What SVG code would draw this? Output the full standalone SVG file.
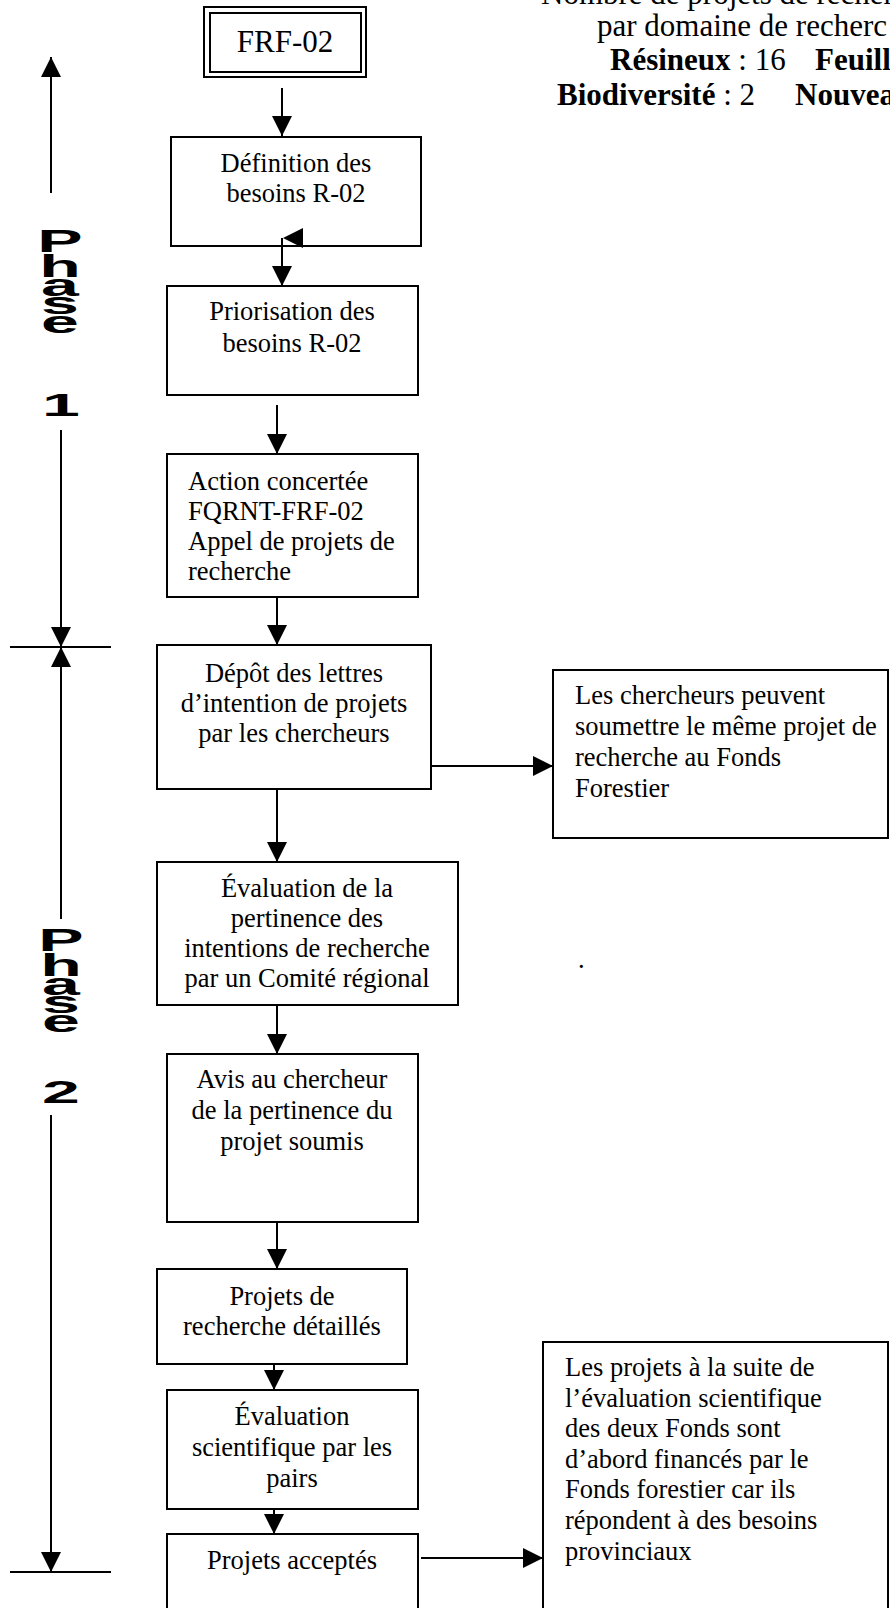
<svg xmlns="http://www.w3.org/2000/svg" width="890" height="1608" viewBox="0 0 890 1608">
<style>
.box{fill:#fff;stroke:#000;stroke-width:2}
.t{font-family:"Liberation Serif","Times New Roman",serif;font-size:26.5px;fill:#000}
.c{text-anchor:middle}
.big{font-family:"Liberation Serif","Times New Roman",serif;font-size:31px;fill:#000}
.ph{font-family:"Liberation Sans",Arial,sans-serif;font-weight:bold;font-size:68px;fill:#000;text-anchor:middle}
.ln{stroke:#000;stroke-width:2;fill:none}
.b{font-weight:bold}
</style>
<defs>
<marker id="ah" markerUnits="userSpaceOnUse" markerWidth="20" markerHeight="20" refX="20" refY="10" orient="auto">
<path d="M0,0 L20,10 L0,20 z" fill="#000"/>
</marker>
</defs>
<rect width="890" height="1608" fill="#fff"/>

<g id="header">
<text class="big" x="541" y="4">Nombre de projets de recherc</text>
<text class="big" x="597" y="36">par domaine de recherc</text>
<text class="big" x="610" y="70"><tspan class="b">Résineux</tspan> : 16<tspan class="b" x="815">Feuill</tspan></text>
<text class="big" x="557" y="105"><tspan class="b">Biodiversité</tspan> : 2<tspan class="b" x="795">Nouvea</tspan></text>
</g>

<g id="phase-labels">
<text class="ph" transform="scale(1,0.47)"><tspan x="60" y="536.2">P</tspan><tspan x="60" y="589.4">h</tspan><tspan x="60" y="628.9">a</tspan><tspan x="60" y="668.5">s</tspan><tspan x="60" y="708.1">e</tspan><tspan x="61" y="885.1">1</tspan></text>
<text class="ph" transform="scale(1,0.47)"><tspan x="61" y="2023.4">P</tspan><tspan x="61" y="2076.6">h</tspan><tspan x="61" y="2116.2">a</tspan><tspan x="61" y="2155.7">s</tspan><tspan x="61" y="2195.3">e</tspan><tspan x="61" y="2346.8">2</tspan></text>
</g>

<g id="connectors">
<line class="ln" x1="51" y1="193" x2="51" y2="57" marker-end="url(#ah)"/>
<line class="ln" x1="61" y1="430" x2="61" y2="647" marker-end="url(#ah)"/>
<line class="ln" x1="10" y1="647" x2="111" y2="647"/>
<line class="ln" x1="61" y1="919" x2="61" y2="647" marker-end="url(#ah)"/>
<line class="ln" x1="51" y1="1115" x2="51" y2="1572" marker-end="url(#ah)"/>
<line class="ln" x1="10" y1="1572" x2="111" y2="1572"/>

<line class="ln" x1="282" y1="88" x2="282" y2="136" marker-end="url(#ah)"/>
<line class="ln" x1="282" y1="238" x2="282" y2="286" marker-end="url(#ah)"/>
<line class="ln" x1="277" y1="405" x2="277" y2="454" marker-end="url(#ah)"/>
<line class="ln" x1="277" y1="597" x2="277" y2="645" marker-end="url(#ah)"/>
<line class="ln" x1="421" y1="766" x2="553" y2="766" marker-end="url(#ah)"/>
<line class="ln" x1="277" y1="789" x2="277" y2="862" marker-end="url(#ah)"/>
<line class="ln" x1="277" y1="983" x2="277" y2="1054" marker-end="url(#ah)"/>
<line class="ln" x1="277" y1="1222" x2="277" y2="1269" marker-end="url(#ah)"/>
<line class="ln" x1="274" y1="1364" x2="274" y2="1390" marker-end="url(#ah)"/>
<line class="ln" x1="274" y1="1509" x2="274" y2="1534" marker-end="url(#ah)"/>
<line class="ln" x1="421" y1="1558" x2="543" y2="1558" marker-end="url(#ah)"/>
</g>

<g id="frf02">
<rect class="box" x="204" y="7" width="162" height="70"/>
<rect class="box" x="210" y="13" width="151" height="59"/>
<text class="big c" x="285" y="52">FRF-02</text>
</g>

<g id="definition">
<rect class="box" x="171" y="137" width="250" height="109" fill-opacity="0"/>
<text class="t c" x="296" y="172">Définition des</text>
<text class="t c" x="296" y="202">besoins R-02</text>
</g>
<polygon points="283,238 303,228 303,248" fill="#000"/>

<g id="priorisation">
<rect class="box" x="167" y="286" width="251" height="109"/>
<text class="t c" x="292" y="320">Priorisation des</text>
<text class="t c" x="292" y="352">besoins R-02</text>
</g>

<g id="action">
<rect class="box" x="167" y="454" width="251" height="143"/>
<text class="t" x="188" y="490">Action concertée</text>
<text class="t" x="188" y="520">FQRNT-FRF-02</text>
<text class="t" x="188" y="550">Appel de projets de</text>
<text class="t" x="188" y="580">recherche</text>
</g>

<g id="depot">
<rect class="box" x="157" y="645" width="274" height="144" fill="none"/>
<text class="t c" x="294" y="682">Dépôt des lettres</text>
<text class="t c" x="294" y="712">d’intention de projets</text>
<text class="t c" x="294" y="742">par les chercheurs</text>
</g>

<g id="fonds-forestier">
<rect class="box" x="553" y="670" width="335" height="168"/>
<text class="t" x="575" y="704">Les chercheurs peuvent</text>
<text class="t" x="575" y="735">soumettre le même projet de</text>
<text class="t" x="575" y="766">recherche au Fonds</text>
<text class="t" x="575" y="797">Forestier</text>
</g>

<g id="evaluation-pertinence">
<rect class="box" x="157" y="862" width="301" height="143" fill="none"/>
<text class="t c" x="307" y="897">Évaluation de la</text>
<text class="t c" x="307" y="927">pertinence des</text>
<text class="t c" x="307" y="957">intentions de recherche</text>
<text class="t c" x="307" y="987">par un Comité régional</text>
</g>

<text class="t" x="578" y="968">.</text>

<g id="avis">
<rect class="box" x="167" y="1054" width="251" height="168"/>
<text class="t c" x="292" y="1088">Avis au chercheur</text>
<text class="t c" x="292" y="1119">de la pertinence du</text>
<text class="t c" x="292" y="1150">projet soumis</text>
</g>

<g id="projets-detailles">
<rect class="box" x="157" y="1269" width="250" height="95"/>
<text class="t c" x="282" y="1305">Projets de</text>
<text class="t c" x="282" y="1335">recherche détaillés</text>
</g>

<g id="evaluation-scientifique">
<rect class="box" x="167" y="1390" width="251" height="119"/>
<text class="t c" x="292" y="1425">Évaluation</text>
<text class="t c" x="292" y="1456">scientifique par les</text>
<text class="t c" x="292" y="1487">pairs</text>
</g>

<g id="projets-acceptes">
<rect class="box" x="167" y="1534" width="251" height="100"/>
<text class="t c" x="292" y="1569">Projets acceptés</text>
</g>

<g id="financement">
<rect class="box" x="543" y="1342" width="345" height="300"/>
<text class="t" x="565" y="1376">Les projets à la suite de</text>
<text class="t" x="565" y="1407">l’évaluation scientifique</text>
<text class="t" x="565" y="1437">des deux Fonds sont</text>
<text class="t" x="565" y="1468">d’abord financés par le</text>
<text class="t" x="565" y="1498">Fonds forestier car ils</text>
<text class="t" x="565" y="1529">répondent à des besoins</text>
<text class="t" x="565" y="1560">provinciaux</text>
</g>
</svg>
